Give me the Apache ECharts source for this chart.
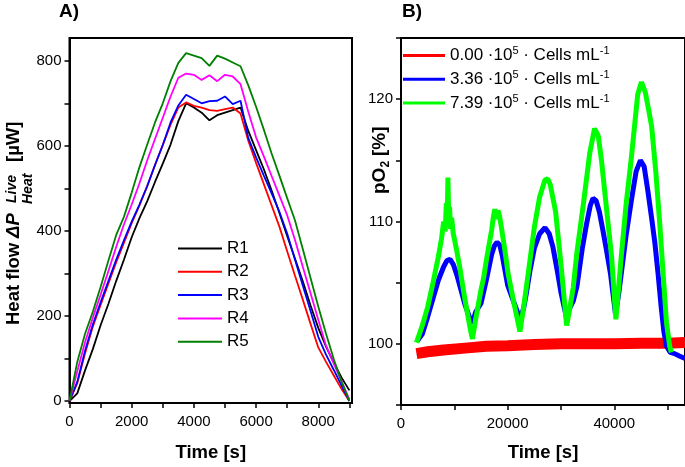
<!DOCTYPE html>
<html><head><meta charset="utf-8">
<script src="https://cdn.jsdelivr.net/npm/echarts@6/dist/echarts.min.js"></script>
<style>html,body{margin:0;padding:0;background:#fff}#c{width:685px;height:467px}</style>
</head><body><div id="c"></div>
<script>
// ---------- Panel A data (time in s, heat flow in µW) ----------
const timeA = [0,250,500,750,1000,1250,1500,1750,2000,2250,2500,2750,3000,3250,3500,3750,4000,4250,4500,4750,5000,5250,5500,5750,6000,6250,6500,6750,7000,7250,7500,7750,8000,8250,8500,8750,9000];
const R1 = [0,18,72,122,178,228,282,332,385,430,470,515,558,603,658,700,690,678,660,672,678,684,690,635,590,545,495,442,388,335,282,225,172,128,90,55,25];
const R2 = [0,42,112,175,226,276,326,372,418,460,506,555,602,650,690,702,694,690,684,682,686,690,676,612,560,510,460,410,352,295,239,182,126,92,60,28,0];
const R3 = [0,45,118,180,232,282,332,378,422,462,505,555,602,655,695,720,710,700,705,706,716,698,706,618,573,530,488,445,394,333,272,212,151,109,73,36,0];
const R4 = [0,70,138,196,250,305,362,415,462,512,566,616,666,716,760,770,767,755,766,752,767,763,745,680,620,575,529,483,437,379,316,254,191,130,88,46,4];
const R5 = [0,92,158,210,268,330,390,433,490,550,603,655,700,752,795,818,812,806,788,812,805,796,787,742,692,638,582,530,477,425,358,290,222,158,98,45,0];
const namesA = ['R1','R2','R3','R4','R5'];
const colorsA = ['#000000','#ff0000','#0000ff','#ff00ff','#008000'];

// ---------- Panel B data (time in s, pO2 in %) ----------
const redT = [2900,5000,8000,12000,16000,20000,25000,30000,35000,40000,45000,50000,53265];
const redV = [99.2,99.35,99.5,99.65,99.8,99.85,99.95,100.0,100.0,100.0,100.05,100.05,100.1];
const blueT = [3000,4000,5000,6000,7000,8000,8600,9200,9800,10500,11000,12000,13000,13400,14000,15000,16000,17000,17500,18000,18500,19000,20000,21000,22000,22300,23000,23500,24200,25000,26000,27000,27800,28500,29300,30000,31060,31500,32300,33000,34000,34800,35500,36000,36600,37200,37900,38600,39300,40240,40800,41300,42200,43200,44100,44900,45600,46300,47000,47600,48200,48800,49300,49800,50500,51300,52200,53265];
const blueV = [100.2,100.8,102.2,103.7,105.2,106.3,106.8,106.9,106.5,105.6,104.8,103.2,102.0,101.7,102.6,103.3,105.2,107.3,108.0,108.3,108.1,107.2,104.8,103.6,102.4,102.0,102.9,104.1,106.0,107.8,109.0,109.5,109.0,107.9,106.0,104.2,102.1,102.8,103.5,104.7,107.8,109.8,111.3,111.9,111.7,110.8,109.2,107.5,105.7,102.4,104.0,105.7,108.8,111.7,114.1,115.0,114.5,112.5,110.3,108.3,105.8,103.0,101.0,99.8,99.3,99.2,99.0,98.8];
const greenT = [2900,4000,5000,6000,7000,7600,8000,8300,8500,8650,8800,8950,9100,9300,9500,9800,10000,10500,11000,12000,13000,13400,14000,15000,15500,16000,17000,17300,17600,17900,18200,18500,18800,19500,20100,21200,22310,23000,24000,25000,26000,27000,27500,28000,29000,30000,30500,31060,31500,32300,33000,34200,35400,36300,37000,37600,38200,38800,39500,40300,40800,41300,42200,43200,44400,45100,45800,46500,47000,47800,48500,49200,49800,50400,50700];
const greenV = [100.1,101.5,103.0,105.0,107.1,108.6,110.0,109.2,111.5,109.8,113.6,110.2,111.2,109.4,110.3,109.0,108.6,107.5,106.3,103.6,101.2,100.4,102.0,104.4,105.4,106.8,109.3,110.3,111.0,110.2,110.9,110.4,109.6,107.6,105.7,103.3,101.0,103.0,106.2,109.5,112.0,113.4,113.5,113.0,110.8,106.5,104.2,101.5,102.5,104.6,107.5,111.4,115.6,117.6,117.0,115.0,112.5,110.0,107.1,102.0,104.5,107.1,111.3,115.2,120.4,121.4,120.6,119.0,117.8,114.0,110.0,105.5,101.7,99.8,99.3];
const namesB = ['0.00','3.36','7.39'];

// ---------- Tick values ----------
const xTicksA = [0,1000,2000,3000,4000,5000,6000,7000,8000,9000];
const xLabelsA = [0,2000,4000,6000,8000];
const yTicksA = [0,100,200,300,400,500,600,700,800];
const yLabelsA = [0,200,400,600,800];
const xTicksB = [0,10000,20000,30000,40000,50000];
const xLabelsB = [0,20000,40000];
const yTicksB = [95,100,105,110,115,120,125];
const yLabelsB = [100,110,120];

const FONT = '"Liberation Sans", Arial, sans-serif';
const pair = (ts, vs) => ts.map((t, i) => [t, vs[i]]);

function xAxis(grid, min, max, ticks, labels, gap) {
  return {
    gridIndex: grid, type: 'value', min: min, max: max,
    axisLine: {show: true, onZero: false, lineStyle: {color: '#000', width: 2}},
    axisTick: {show: true, length: 5, customValues: ticks, lineStyle: {color: '#000', width: 1.5}},
    axisLabel: {customValues: labels, formatter: v => String(v), color: '#000', fontSize: 15, fontFamily: FONT, margin: 11},
    splitLine: {show: false},
    name: 'Time [s]', nameLocation: 'middle', nameGap: gap,
    nameTextStyle: {color: '#000', fontSize: 18.5, fontWeight: 'bold', fontFamily: FONT}
  };
}
function yAxis(grid, min, max, ticks, labels) {
  return {
    gridIndex: grid, type: 'value', min: min, max: max,
    axisLine: {show: true, onZero: false, lineStyle: {color: '#000', width: 2}},
    axisTick: {show: true, length: 5, customValues: ticks, lineStyle: {color: '#000', width: 1.5}},
    axisLabel: {customValues: labels, formatter: v => String(v), color: '#000', fontSize: 15, fontFamily: FONT, margin: 8},
    splitLine: {show: false}
  };
}

const series = [];
const dataA = [R1, R2, R3, R4, R5];
namesA.forEach((n, i) => series.push({
  name: n, type: 'line', xAxisIndex: 0, yAxisIndex: 0, data: pair(timeA, dataA[i]),
  symbol: 'none', showSymbol: false, lineStyle: {color: colorsA[i], width: 1.8}, itemStyle: {color: colorsA[i]}
}));
series.push({name: namesB[0], type: 'line', xAxisIndex: 1, yAxisIndex: 1, data: pair(redT, redV),
  symbol: 'none', lineStyle: {color: '#ff0000', width: 11}, itemStyle: {color: '#ff0000'}});
series.push({name: namesB[1], type: 'line', xAxisIndex: 1, yAxisIndex: 1, data: pair(blueT, blueV),
  symbol: 'none', lineStyle: {color: '#0000ff', width: 5}, itemStyle: {color: '#0000ff'}});
series.push({name: namesB[2], type: 'line', xAxisIndex: 1, yAxisIndex: 1, data: pair(greenT, greenV),
  symbol: 'none', lineStyle: {color: '#00ff00', width: 5}, itemStyle: {color: '#00ff00'}});

const B = 'bold';
const option = {
  animation: false,
  backgroundColor: '#fff',
  grid: [
    {left: 69.5, top: 38, width: 282.5, height: 369, show: true, borderColor: '#000', borderWidth: 2, backgroundColor: 'transparent'},
    {left: 401, top: 38, width: 284, height: 371, show: true, borderColor: '#000', borderWidth: 2, backgroundColor: 'transparent'}
  ],
  xAxis: [xAxis(0, 0, 9085, xTicksA, xLabelsA, 40), xAxis(1, 0, 53265, xTicksB, xLabelsB, 38)],
  yAxis: [yAxis(0, -4.65, 853.5, yTicksA, yLabelsA), yAxis(1, 95, 125, yTicksB, yLabelsB)],
  legend: [
    {data: namesA, orient: 'vertical', left: 178, top: 240, padding: 0, icon: 'rect', itemWidth: 44, itemHeight: 2, itemGap: 6.3,
     textStyle: {color: '#000', fontSize: 17, fontFamily: FONT, lineHeight: 17}},
    {data: namesB, orient: 'vertical', left: 403, top: 45.5, padding: 0, icon: 'rect', itemWidth: 42, itemHeight: 3, itemGap: 5.3,
     formatter: n => '{n|' + n + ' \u00b710}{s|5}{n| \u00b7 Cells mL}{s|-1}',
     textStyle: {color: '#000', fontFamily: FONT, fontSize: 17,
       rich: {n: {fontSize: 17, lineHeight: 20, color: '#000', fontFamily: FONT},
              s: {fontSize: 11, lineHeight: 11, verticalAlign: 'top', color: '#000', fontFamily: FONT}}}}
  ],
  graphic: [
    {type: 'text', left: 59, top: 2, style: {text: 'A)', fontSize: 19, fontWeight: B, fontFamily: FONT, fill: '#000'}},
    {type: 'text', left: 402, top: 2, style: {text: 'B)', fontSize: 19, fontWeight: B, fontFamily: FONT, fill: '#000'}},
    {type: 'group', x: 14, y: 325, rotation: Math.PI / 2, children: [
      {type: 'text', x: 0, y: 0, style: {text: 'Heat flow', fontSize: 18.5, fontWeight: B, fontFamily: FONT, fill: '#000', align: 'left', verticalAlign: 'middle'}},
      {type: 'text', x: 87, y: 0, style: {text: '\u0394P', fontSize: 18.5, fontWeight: B, fontStyle: 'italic', fontFamily: FONT, fill: '#000', align: 'left', verticalAlign: 'middle'}},
      {type: 'text', x: 122, y: -1.5, style: {text: 'Live', fontSize: 14, fontWeight: B, fontStyle: 'italic', fontFamily: FONT, fill: '#000', align: 'left', verticalAlign: 'middle'}},
      {type: 'text', x: 121, y: 14, style: {text: 'Heat', fontSize: 14, fontWeight: B, fontStyle: 'italic', fontFamily: FONT, fill: '#000', align: 'left', verticalAlign: 'middle'}},
      {type: 'text', x: 163, y: 0, style: {text: '[\u00b5W]', fontSize: 18.5, fontWeight: B, fontFamily: FONT, fill: '#000', align: 'left', verticalAlign: 'middle'}}
    ]},
    {type: 'group', x: 380, y: 194, rotation: Math.PI / 2, children: [
      {type: 'text', x: 0, y: 0, style: {text: 'pO', fontSize: 19, fontWeight: B, fontFamily: FONT, fill: '#000', align: 'left', verticalAlign: 'middle'}},
      {type: 'text', x: 26.5, y: 6, style: {text: '2', fontSize: 12, fontWeight: B, fontFamily: FONT, fill: '#000', align: 'left', verticalAlign: 'middle'}},
      {type: 'text', x: 38, y: 0, style: {text: '[%]', fontSize: 19, fontWeight: B, fontFamily: FONT, fill: '#000', align: 'left', verticalAlign: 'middle'}}
    ]}
  ],
  series: series
};
const chart = echarts.init(document.getElementById('c'), null, {renderer: 'canvas', width: 685, height: 467});
chart.setOption(option);
</script>
</body></html>
